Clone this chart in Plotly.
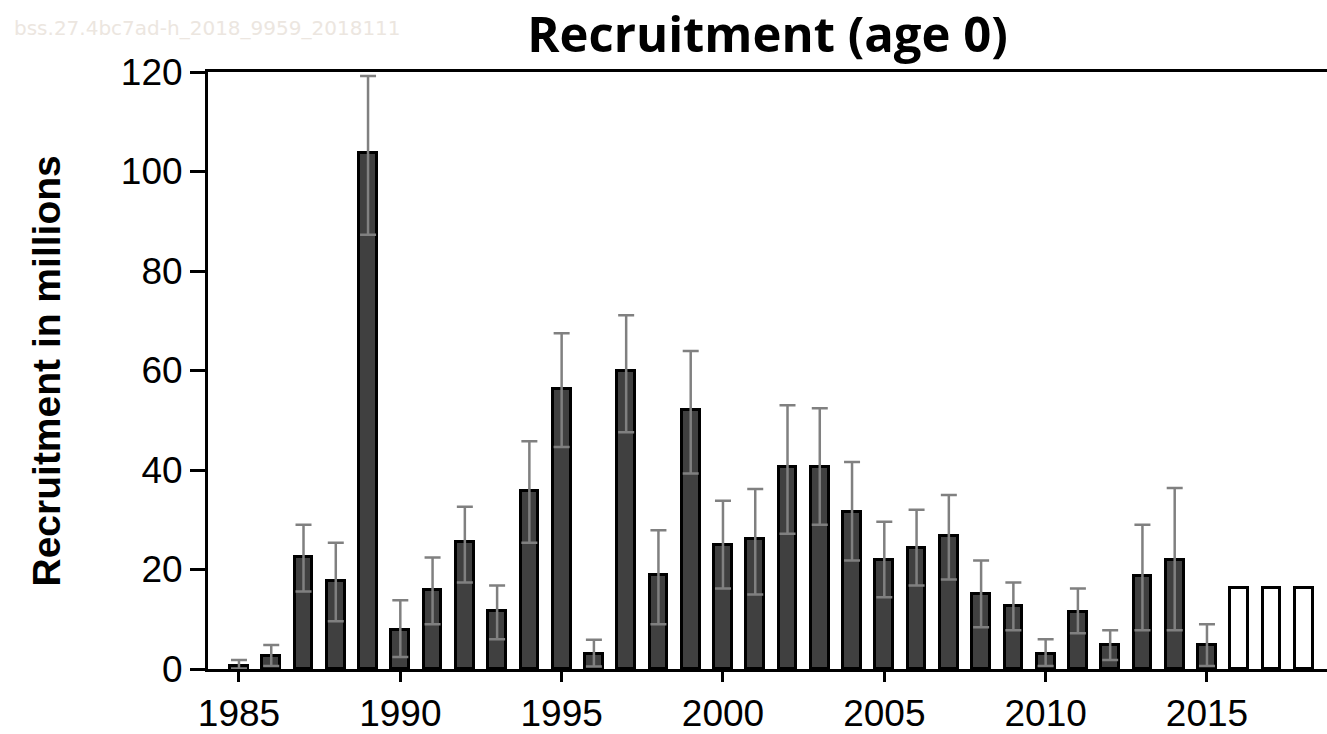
import plotly.graph_objects as go

years = list(range(1985, 2016))
recruitment = [0.7, 2.6, 22.5, 17.6, 103.8, 7.9, 15.8, 25.5, 11.6, 35.8,
               56.2, 3.1, 59.9, 18.8, 52.0, 24.9, 26.1, 40.6, 40.6, 31.5,
               21.9, 24.3, 26.7, 15.1, 12.7, 3.1, 11.5, 4.9, 18.7, 21.9, 4.9]
high = [1.8, 4.8, 29.0, 25.4, 119.2, 13.8, 22.4, 32.6, 16.8, 45.8,
        67.5, 5.9, 71.1, 27.9, 63.9, 33.8, 36.2, 53.0, 52.4, 41.6,
        29.6, 32.0, 35.0, 21.8, 17.4, 6.0, 16.2, 7.8, 29.0, 36.4, 9.0]
low = [0.1, 0.6, 15.6, 9.6, 87.3, 2.4, 9.0, 17.4, 6.0, 25.4,
       44.6, 0.5, 47.6, 9.0, 39.3, 16.2, 15.0, 27.2, 29.0, 21.8,
       14.4, 16.8, 18.0, 8.4, 7.8, 0.6, 7.2, 1.8, 7.8, 7.8, 0.6]
forecast_years = [2016, 2017, 2018]
forecast_values = [16.2, 16.2, 16.2]

x_ticks = [1985, 1990, 1995, 2000, 2005, 2010, 2015]
y_ticks = [0, 20, 40, 60, 80, 100, 120]

err_plus = [h - r for h, r in zip(high, recruitment)]
err_minus = [r - l for r, l in zip(recruitment, low)]

fig = go.Figure()
fig.add_trace(go.Bar(
    x=years, y=recruitment, width=0.55,
    marker=dict(color="#404040", line=dict(color="black", width=3)),
    error_y=dict(type="data", array=err_plus, arrayminus=err_minus,
                 color="#808080", thickness=2.5, width=8, visible=True),
    showlegend=False,
))
fig.add_trace(go.Bar(
    x=forecast_years, y=forecast_values, width=0.55,
    marker=dict(color="white", line=dict(color="black", width=3)),
    showlegend=False,
))

tickfont = dict(family="Liberation Sans, Arial, sans-serif", size=37, color="black")

fig.update_layout(
    width=1327, height=734,
    margin=dict(l=208, r=0, t=72, b=63),
    paper_bgcolor="white", plot_bgcolor="white",
    bargap=0,
    title=dict(text="Recruitment (age 0)", x=0.5, xref="paper", xanchor="center",
               y=1 - 35 / 734, yref="container", yanchor="middle",
               font=dict(family="Open Sans, sans-serif", size=49, color="black", weight=700)),
    xaxis=dict(range=[1984.04, 2018.72], tickvals=x_ticks, ticks="outside", ticklen=10,
               tickwidth=3, tickcolor="black", showline=True, linecolor="black", linewidth=3,
               mirror=True, showgrid=False, zeroline=False, tickfont=tickfont),
    yaxis=dict(range=[0, 120], tickvals=y_ticks, ticks="outside", ticklen=15,
               tickwidth=3, tickcolor="black", showline=True, linecolor="black", linewidth=3,
               showgrid=False, zeroline=False, tickfont=tickfont),
    annotations=[
        dict(text="Recruitment in millions", textangle=-90, xref="paper", yref="paper",
             x=-(208 - 46) / 1119, y=0.5, xanchor="center", yanchor="middle", showarrow=False,
             font=dict(family="Liberation Sans, Arial, sans-serif", size=39, color="black", weight=700)),
        dict(text="bss.27.4bc7ad-h_2018_9959_2018111", xref="paper", yref="paper",
             x=-(208 - 12) / 1119, y=1 + (72 - 28) / 599, xanchor="left", yanchor="middle",
             showarrow=False,
             font=dict(family="DejaVu Sans, sans-serif", size=20, color="#ece6e0")),
    ],
)

fig.write_html("out.html", config={"displayModeBar": False},
               post_script="document.body.style.margin='0';")
